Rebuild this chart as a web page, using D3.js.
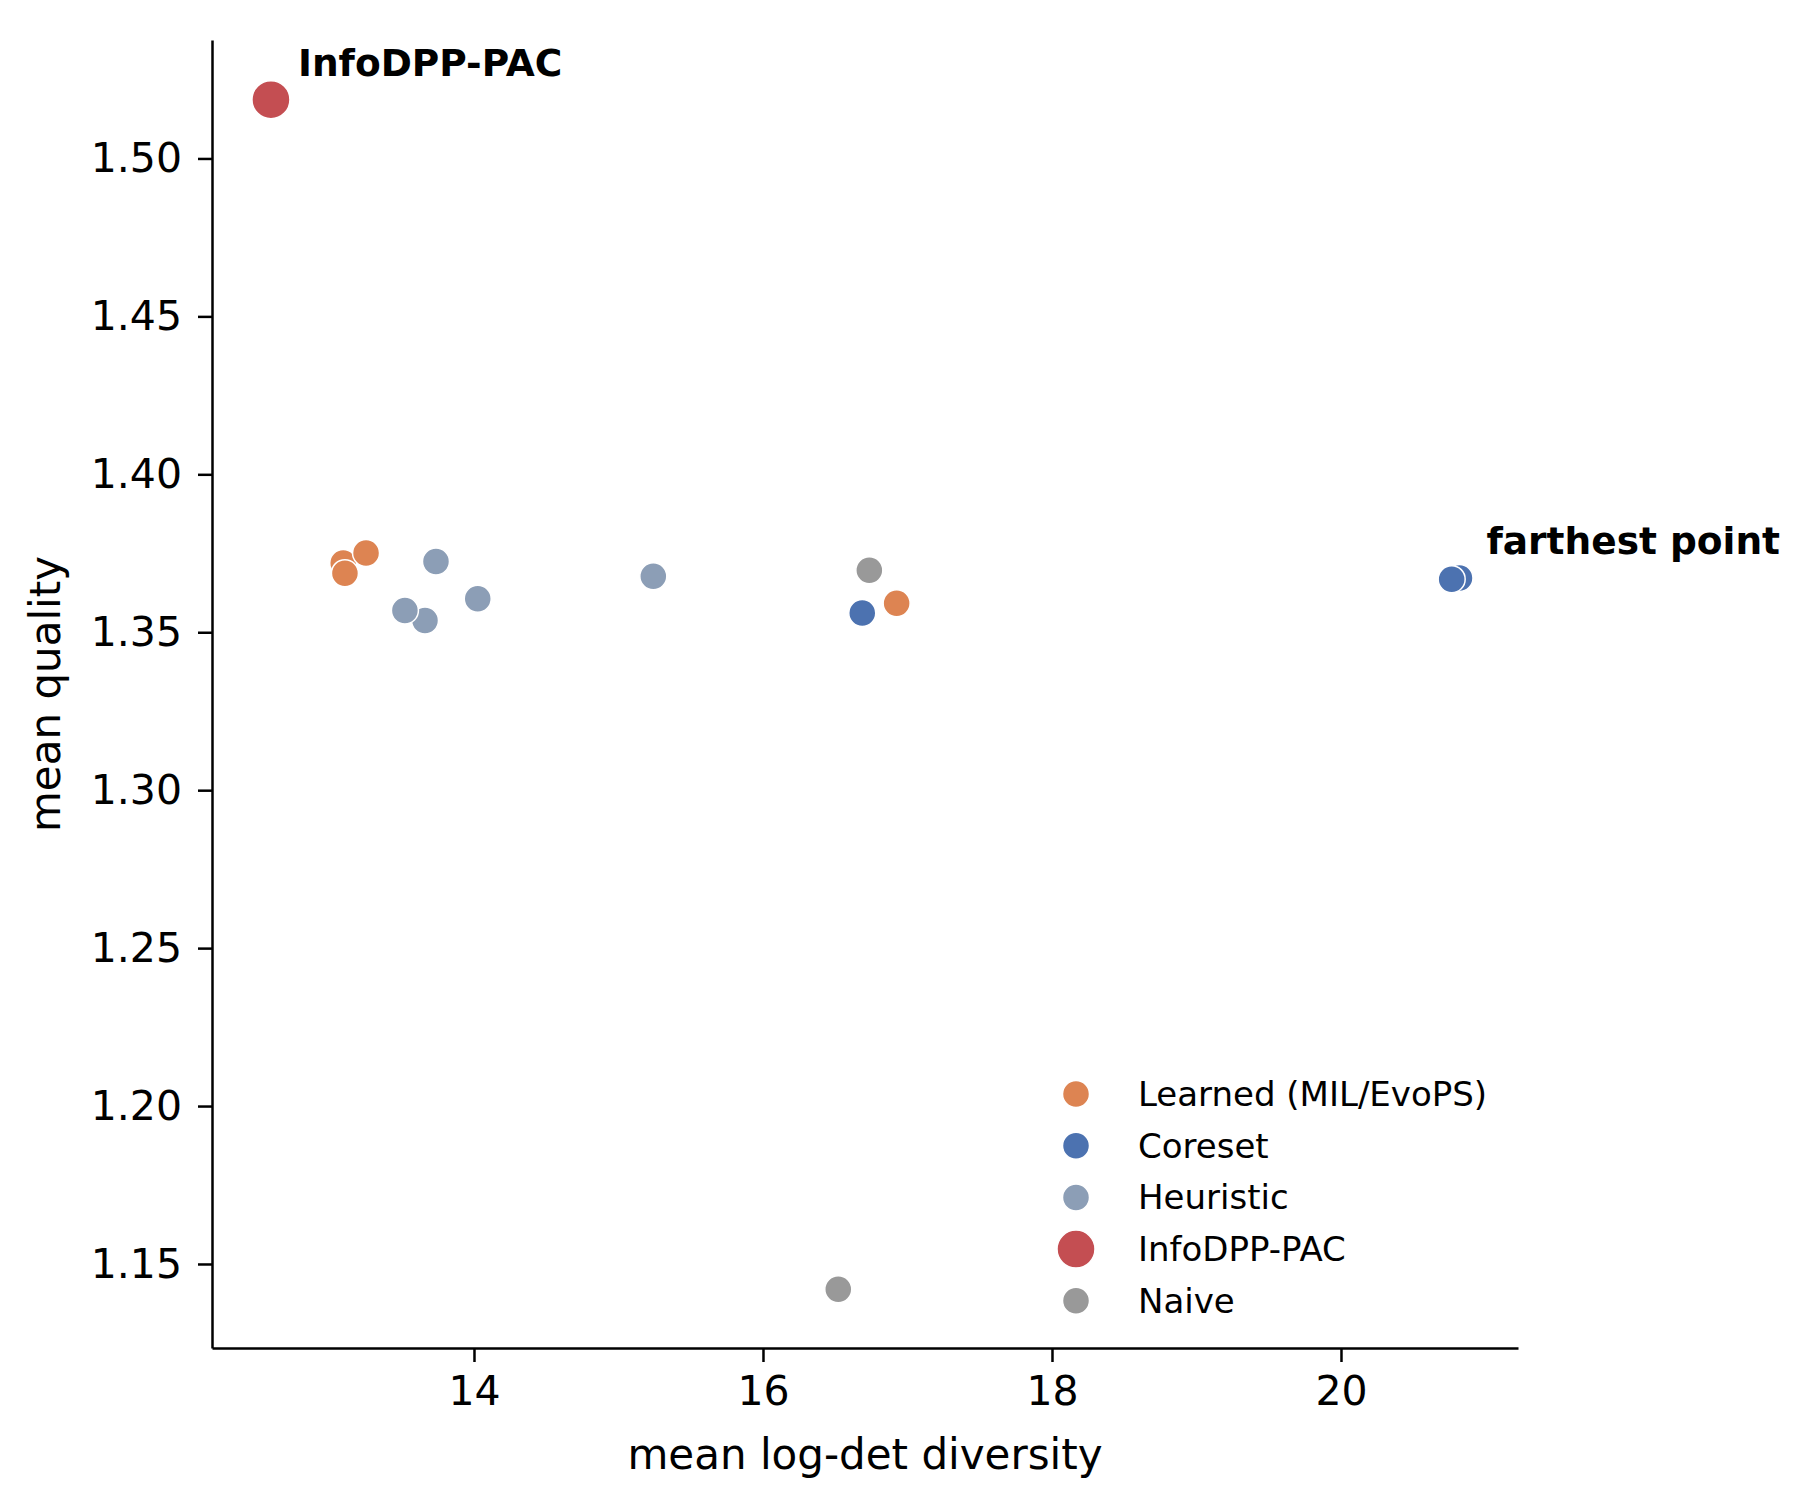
<!DOCTYPE html>
<html>
<meta charset="utf-8">
<style>
body { margin: 0; background: #fff; font-family: "DejaVu Sans", sans-serif; }
.axis path,
.axis line {
	fill: none;
	stroke: #000;
	stroke-width: 2.5;
}
.axis text { font-family: "DejaVu Sans", sans-serif; font-size: 41px; fill: #000; }
.dot { stroke: #fff; stroke-width: 1.5; }
</style>
<body>
<script src="https://d3js.org/d3.v7.min.js"></script>
<script>
// groups (legend order)
var groups = ["Learned (MIL/EvoPS)", "Coreset", "Heuristic", "InfoDPP-PAC", "Naive"];
var groupColors = ["#dd8452", "#4c72b0", "#8c9eb6", "#c44e52", "#999999"];

// one entry per method, drawn in this order
var pointGroup = ["Learned (MIL/EvoPS)", "Learned (MIL/EvoPS)", "Learned (MIL/EvoPS)", "Learned (MIL/EvoPS)",
	"Heuristic", "Heuristic", "Heuristic", "Heuristic", "Heuristic",
	"Coreset", "Coreset", "Coreset",
	"Naive", "Naive",
	"InfoDPP-PAC"];
var diversity = [13.095, 13.107, 13.253, 16.925,
	13.737, 13.661, 13.522, 14.026, 15.241,
	16.687, 20.820, 20.766,
	16.736, 16.521,
	12.595];
var quality = [1.3719, 1.3687, 1.3751, 1.3592,
	1.3724, 1.3537, 1.3569, 1.3606, 1.3677,
	1.3561, 1.3672, 1.3668,
	1.3696, 1.1420,
	1.5186];

var xTicks = [14, 16, 18, 20];
var yTicks = [1.15, 1.20, 1.25, 1.30, 1.35, 1.40, 1.45, 1.50];

var annotations = [
	{ label: "InfoDPP-PAC", x: 12.595, y: 1.5186 },
	{ label: "farthest point", x: 20.820, y: 1.3672 }
];

var margin = {top: 40, right: 282, bottom: 151, left: 212},
	width = 1800 - margin.left - margin.right,
	height = 1499 - margin.top - margin.bottom;

var x = d3.scaleLinear().domain([12.187, 21.225]).range([0, width]);
var y = d3.scaleLinear().domain([1.1234, 1.5375]).range([height, 0]);
var color = d3.scaleOrdinal().domain(groups).range(groupColors);
var radius = function(g) { return g === "InfoDPP-PAC" ? 19 : 13.5; };

var svg = d3.select("body")
	.append("svg")
	.attr("width", 1800)
	.attr("height", 1499)
	.append("g")
	.attr("transform", "translate(" + margin.left + "," + margin.top + ")");

svg.append("g")			// X axis
	.attr("class", "x axis")
	.attr("transform", "translate(0," + height + ")")
	.call(d3.axisBottom(x).tickValues(xTicks).tickSize(14).tickPadding(14).tickSizeOuter(0));

svg.append("g")			// Y axis
	.attr("class", "y axis")
	.call(d3.axisLeft(y).tickValues(yTicks).tickFormat(d3.format(".2f")).tickSize(14).tickPadding(16).tickSizeOuter(0));

svg.append("text")
	.attr("x", width / 2)
	.attr("y", height + 121)
	.attr("font-size", "42px")
	.style("text-anchor", "middle")
	.text("mean log-det diversity");

svg.append("text")
	.attr("transform", "rotate(-90)")
	.attr("x", -height / 2)
	.attr("y", -152)
	.attr("font-size", "42px")
	.style("text-anchor", "middle")
	.text("mean quality");

// points
svg.selectAll(".dot")
	.data(d3.range(diversity.length))
	.enter().append("circle")
	.attr("class", "dot")
	.attr("cx", function(i) { return x(diversity[i]); })
	.attr("cy", function(i) { return y(quality[i]); })
	.attr("r", function(i) { return radius(pointGroup[i]); })
	.style("fill", function(i) { return color(pointGroup[i]); });

// annotations
svg.selectAll(".note")
	.data(annotations)
	.enter().append("text")
	.attr("class", "note")
	.attr("x", function(d) { return x(d.x) + 27; })
	.attr("y", function(d) { return y(d.y) - 24; })
	.attr("font-size", "37.5px")
	.attr("font-weight", "bold")
	.text(function(d) { return d.label; });

// legend
var legend = svg.append("g")
	.attr("transform", "translate(" + (1076 - margin.left) + "," + (1094 - margin.top) + ")");

var item = legend.selectAll(".item")
	.data(groups)
	.enter().append("g")
	.attr("transform", function(d, i) { return "translate(0," + (i * 51.7) + ")"; });

item.append("circle")
	.attr("class", "dot")
	.attr("r", function(d) { return radius(d); })
	.style("fill", function(d) { return color(d); });

item.append("text")
	.attr("x", 62)
	.attr("dy", "0.35em")
	.attr("font-size", "34px")
	.text(function(d) { return d; });
</script>
</body>
</html>
